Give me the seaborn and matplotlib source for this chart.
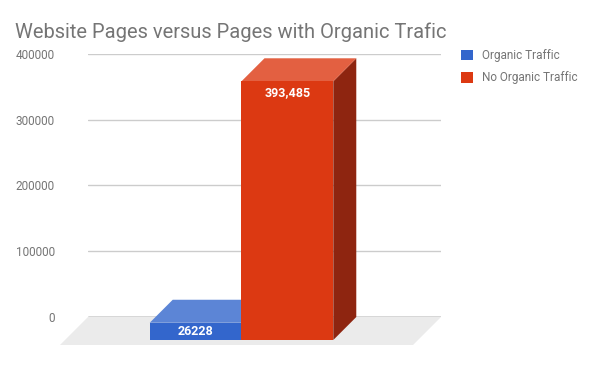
import numpy as np
import pandas as pd
import matplotlib
matplotlib.use("Agg")
import matplotlib.pyplot as plt
import seaborn as sns
from matplotlib.patches import Polygon, Patch

# data
category = ["Pages"]
series = ["Organic Traffic", "No Organic Traffic"]
values = [26228, 393485]
value_labels = ["26228", "393,485"]
y_ticks = [0, 100000, 200000, 300000, 400000]
title = "Website Pages versus Pages with Organic Trafic"

front_colors = ["#3366cc", "#dc3912"]
top_colors = ["#5c85d6", "#e36041"]
side_colors = ["#24478f", "#8e2510"]

sns.set_style("white")
plt.rcParams["font.family"] = ["Roboto", "DejaVu Sans"]

W, H = 593, 366
fig = plt.figure(figsize=(W / 100, H / 100), dpi=100)
# axes: back plane of the 3d chart, in pixels
left, right, top, bottom = 88, 441, 54, 317
ax = fig.add_axes([left / W, 1 - bottom / H, (right - left) / W, (bottom - top) / H])

df = pd.DataFrame({"category": category * len(series), "series": series, "value": values})
sns.barplot(data=df, x="category", y="value", hue="series", palette=front_colors,
            width=0.52, gap=0, legend=False, ax=ax, saturation=1)

ax.set_xlim(-0.5, 0.5)
ax.set_ylim(0, 400000)
ax.set_yticks(y_ticks)
ax.set_yticklabels([str(t) for t in y_ticks])
ax.set_xticks([])
ax.set_xlabel("")
ax.set_ylabel("")
for s in ax.spines.values():
    s.set_visible(False)
ax.tick_params(axis="y", length=0, pad=24, labelsize=8.5, labelcolor="#757575")
for t in y_ticks[1:]:
    ax.axhline(t, color="#cccccc", lw=1, zorder=0.5)
ax.axhline(0, color="#333333", lw=1, zorder=1.5)


def offset(px):
    # pixel offset (left, down) -> data units
    p0 = ax.transData.transform((0, 0))
    p1 = ax.transData.inverted().transform((p0[0] - px, p0[1] - px))
    return p1[0], p1[1]


# floor
fdx, fdy = offset(28)
x_lo, x_hi = ax.get_xlim()
ax.add_patch(Polygon([(x_lo, 0), (x_hi, 0), (x_hi + fdx, fdy), (x_lo + fdx, fdy)],
                     closed=True, facecolor="#ebebeb", edgecolor="none", zorder=1, clip_on=False))

dx, dy = offset(23)
lab_dy = offset(11)[1]
for i, p in enumerate(ax.patches[:len(series)]):
    x0, w, h = p.get_x(), p.get_width(), p.get_height()
    x1 = x0 + w
    z = 3 + i
    side = Polygon([(x1 + dx, dy), (x1 + dx, h + dy), (x1, h), (x1, 0)], closed=True,
                   facecolor=side_colors[i], edgecolor="none", zorder=z, clip_on=False)
    topf = Polygon([(x0 + dx, h + dy), (x1 + dx, h + dy), (x1, h), (x0, h)], closed=True,
                   facecolor=top_colors[i], edgecolor="none", zorder=z, clip_on=False)
    ax.add_patch(side)
    ax.add_patch(topf)
    p.set_xy((x0 + dx, dy))
    p.set_edgecolor("none")
    p.set_zorder(z + 0.1)
    p.set_clip_on(False)
    ly = max(dy + h / 2, h + dy + lab_dy)
    ax.text(x0 + dx + w / 2, ly, value_labels[i], color="white", fontsize=9,
            fontweight="bold", ha="center", va="center", zorder=10)

fig.text(15 / W, 1 - 38 / H, title, fontsize=14.5, color="#757575", ha="left", va="baseline")

handles = [Patch(facecolor=c, edgecolor="none") for c in front_colors]
fig.legend(handles, series, loc="upper left", bbox_to_anchor=(461 / W, 1 - 49 / H),
           frameon=False, fontsize=8.5, labelcolor="#757575", handlelength=1.0,
           handleheight=1.0, handletextpad=0.75, labelspacing=0.8, borderpad=0,
           borderaxespad=0)

fig.savefig("out.png", dpi=100, facecolor="white")
